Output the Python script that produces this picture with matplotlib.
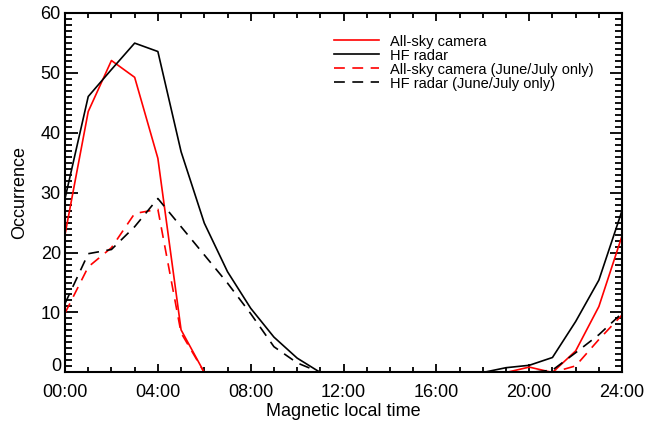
import numpy as np
import matplotlib
matplotlib.use("Agg")
import matplotlib.pyplot as plt
from matplotlib.ticker import MultipleLocator

# Hourly occurrence vs magnetic local time (00..24)
mlt_hours = list(range(25))
tick_labels = ["00:00", "04:00", "08:00", "12:00", "16:00", "20:00", "24:00"]
y_ticks = [0, 10, 20, 30, 40, 50, 60]

asc_all = [23, 43.5, 52, 49.2, 35.7, 7.1, 0, 0, 0, 0, 0, 0, 0, 0, 0, 0, 0, 0, 0, 0,
           0.9, 0, 3.6, 11, 22.8]
radar_all = [29, 46, 50.5, 54.9, 53.5, 36.8, 24.9, 16.8, 10.7, 5.9, 2.4, 0, 0, 0, 0, 0, 0, 0, 0,
             0.8, 1.2, 2.5, 8.5, 15.4, 27]
asc_jj = [9.9, 17.6, 20.8, 26.5, 27.2, 6.6, 0, 0, 0, 0, 0, 0, 0, 0, 0, 0, 0, 0, 0, 0,
          0, 0, 1.1, 5.5, 9.6]
radar_jj = [11.5, 19.8, 20.5, 24.3, 29, 24.3, 19.6, 14.9, 9.8, 4.3, 1.6, 0, 0, 0, 0, 0, 0, 0, 0,
            0, 0, 0.4, 3.3, 6.3, 9.9]

plt.rcParams['font.family'] = ['Liberation Sans', 'DejaVu Sans']

fig = plt.figure(figsize=(6.47, 4.23), dpi=100)
ax = fig.add_axes([0.1005, 0.1194, 0.861, 0.851])

dash = (6.5, 4.5)
ax.plot(mlt_hours, asc_all, color='#ff0000', lw=1.2, label='All-sky camera')
ax.plot(mlt_hours, radar_all, color='black', lw=1.2, label='HF radar')
ax.plot(mlt_hours, asc_jj, color='#ff0000', lw=1.2, dashes=dash,
        label='All-sky camera (June/July only)')
ax.plot(mlt_hours, radar_jj, color='black', lw=1.2, dashes=dash,
        label='HF radar (June/July only)')

ax.set_xlim(0, 24)
ax.set_ylim(0, 60)
ax.set_xticks(range(0, 25, 4))
ax.set_xticklabels(tick_labels)
ax.xaxis.set_minor_locator(MultipleLocator(1))
# "0" is drawn separately, a bit above its tick (IDL style)
ax.set_yticks(y_ticks)
ax.set_yticklabels([''] + [str(v) for v in y_ticks[1:]])
ax.yaxis.set_minor_locator(MultipleLocator(1))
ax.annotate(str(y_ticks[0]), xy=(0, 0), xycoords='axes fraction', xytext=(-4, 6),
            textcoords='offset pixels', ha='right', va='center', fontsize=13)

ax.tick_params(which='both', direction='in', top=True, right=True, labelsize=13, width=1.3)
ax.tick_params(axis='y', which='major', length=9, pad=3)
ax.tick_params(axis='y', which='minor', length=5)
ax.tick_params(axis='x', which='major', length=6, pad=8)
ax.tick_params(axis='x', which='minor', length=3.5)
for s in ax.spines.values():
    s.set_linewidth(1.5)

ax.set_xlabel('Magnetic local time', fontsize=13, labelpad=2)
ax.set_ylabel('Occurrence', fontsize=13, labelpad=9)

ax.legend(loc='upper left', bbox_to_anchor=(0.4726, 0.955), frameon=False, fontsize=10.5,
          handlelength=3.1, handletextpad=0.7, labelspacing=0.0, borderaxespad=0)

fig.savefig('out.png', dpi=100)
